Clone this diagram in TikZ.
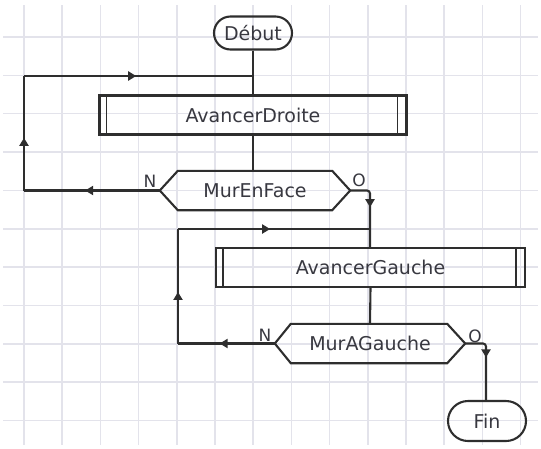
\documentclass[tikz,border=0pt]{standalone}
\usepackage{fontspec}
\setmainfont{DejaVu Sans}
\usetikzlibrary{shapes.misc,decorations.markings,arrows.meta}
\definecolor{gridc}{rgb}{0.89,0.89,0.92}
\definecolor{linec}{rgb}{0.18,0.18,0.18}
\definecolor{textc}{rgb}{0.22,0.22,0.25}
\tikzset{
  conn/.style={draw=linec, line width=2.1pt},
  marr/.style={postaction={decorate,decoration={markings,mark=at position #1 with {\arrow{Triangle[length=8pt,width=9pt]}}}}},
  term/.style={rounded rectangle, draw=linec, line width=2.1pt, inner sep=0pt, minimum width=78pt, text=textc, font=\fontsize{19}{22}\selectfont},
  procbox/.style={rectangle, draw=linec, line width=2.1pt, inner sep=0pt, minimum height=39pt, text=textc, font=\fontsize{19}{22}\selectfont,
    path picture={\draw[linec, line width=1.7pt] ([xshift=7pt]path picture bounding box.north west) -- ([xshift=7pt]path picture bounding box.south west);
                  \draw[linec, line width=1.7pt] ([xshift=-9pt]path picture bounding box.north east) -- ([xshift=-9pt]path picture bounding box.south east);}},
  decis/.style={rectangle, draw=none, inner sep=0pt, minimum height=39pt, text=textc, font=\fontsize{19}{22}\selectfont},
  hexa/.style={draw=linec, line width=2.1pt, line join=miter},
  lab/.style={text=textc, font=\fontsize{17}{19}\selectfont, inner sep=0pt}
}
\begin{document}
\begin{tikzpicture}[x=1pt,y=-1pt]
\useasboundingbox (0,0) rectangle (541,448);
% grid
\foreach \k in {0,...,13} {\draw[gridc, line width=1.5pt] ({24+38.2*\k},5) -- ({24+38.2*\k},445);}
\foreach \k in {0,...,10} {\draw[gridc, line width=1.5pt] (3,{37+38.35*\k}) -- (538,{37+38.35*\k});}
% nodes
\node[term, minimum height=33pt] (debut) at (253,33) {Début};
\node[procbox, minimum width=307pt] (ad) at (253,115) {AvancerDroite};
\node[decis, minimum width=190pt] (mef) at (255,190.5) {MurEnFace};
\node[procbox, minimum width=309pt] (ag) at (370.5,267.5) {AvancerGauche};
\node[decis, minimum width=190pt] (mag) at (370,343.5) {MurAGauche};
\node[term, minimum height=40pt] (fin) at (487,421) {Fin};
\draw[hexa] (mef.west) -- ([xshift=18pt]mef.north west) -- ([xshift=-18pt]mef.north east) -- (mef.east) -- ([xshift=-18pt]mef.south east) -- ([xshift=18pt]mef.south west) -- cycle;
\draw[hexa] (mag.west) -- ([xshift=16pt]mag.north west) -- ([xshift=-18pt]mag.north east) -- (mag.east) -- ([xshift=-18pt]mag.south east) -- ([xshift=16pt]mag.south west) -- cycle;
% labels
\node[lab] (n1) at (150,181) {N};
\node[lab] (o1) at (359,180) {O};
\node[lab] (n2) at (265,335) {N};
\node[lab] (o2) at (475,336) {O};
% coordinates
\coordinate (j1) at (253,76);
\coordinate (c1a) at (24,190.5);
\coordinate (c1b) at (24,76);
\coordinate (c2) at (370,190.5);
\coordinate (j2) at (370,229);
\coordinate (c3a) at (178,343.5);
\coordinate (c3b) at (178,229);
\coordinate (c4) at (486,343.5);
% connectors
\draw[conn] (debut.south) -- (ad.north);
\draw[conn] (ad.south) -- (ad.south |- mef.north);
\draw[conn, marr=0.55] (mef.west) -- (c1a);
\draw[conn, marr=0.46] (c1a) -- (c1b);
\draw[conn, marr=0.49] (c1b) -- (j1);
\draw[conn, rounded corners=3pt, marr=0.47] (mef.east) -- (c2) -- (ag.north -| c2);
\draw[conn] (ag.south) -- (mag.north);
\draw[conn, marr=0.57] (mag.west) -- (c3a);
\draw[conn, marr=0.45] (c3a) -- (c3b);
\draw[conn, marr=0.48] (c3b) -- (j2);
\draw[conn, rounded corners=3pt, marr=0.44] (mag.east) -- (c4) -- (fin.north -| c4);
\end{tikzpicture}
\end{document}
